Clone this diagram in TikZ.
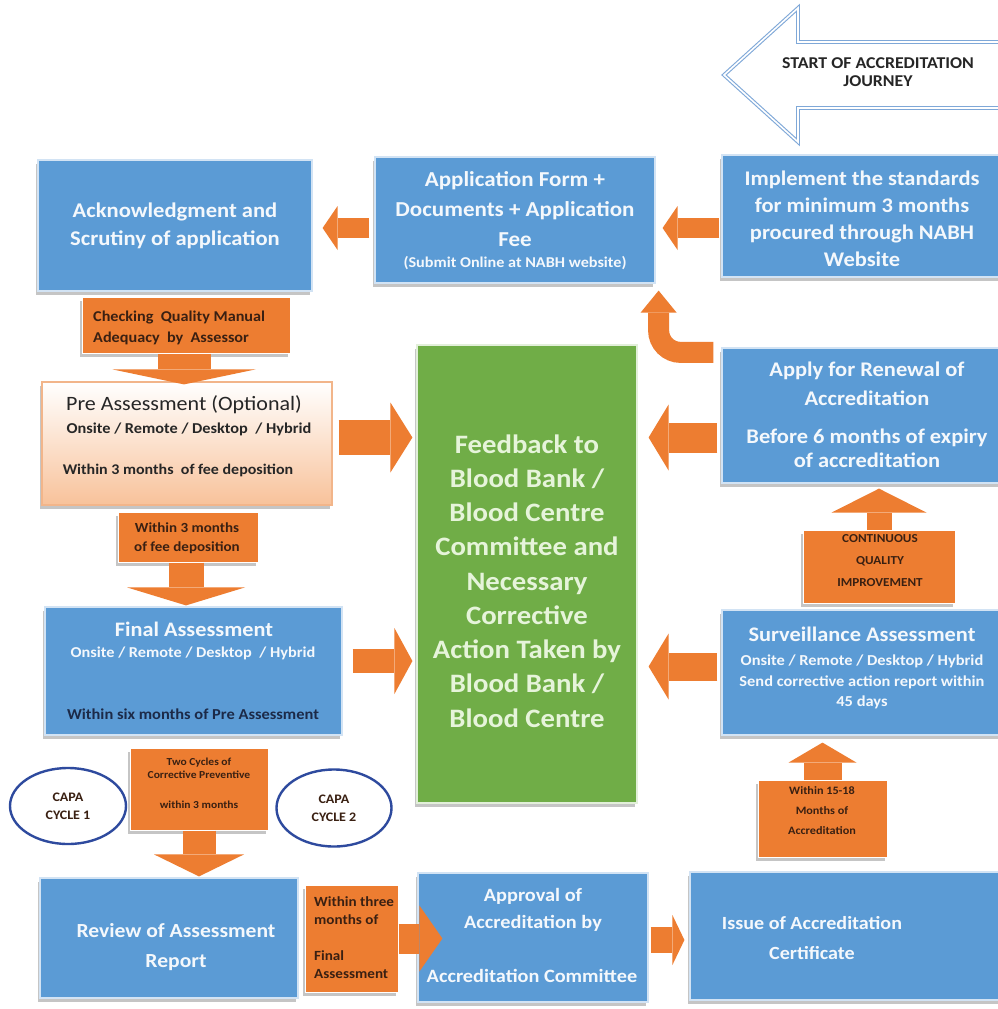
\documentclass[tikz,border=0pt]{standalone}
\usepackage{fontspec}
\setmainfont{Carlito}[FakeStretch=1.08]
\usetikzlibrary{arrows.meta,shadows,calc,shapes.geometric}
\definecolor{boxblue}{HTML}{5B9BD5}
\definecolor{boxedge}{HTML}{D2E3F4}
\definecolor{arrorange}{HTML}{ED7D31}
\definecolor{feedgreen}{HTML}{70AD47}
\definecolor{txtwhite}{HTML}{F4F8FC}
\definecolor{greentxt}{HTML}{E6F4DA}
\definecolor{darktxt}{HTML}{3A2012}
\definecolor{navytxt}{HTML}{1C2A48}
\definecolor{peach}{HTML}{F8C29A}
\definecolor{peachedge}{HTML}{F2B58A}
\definecolor{capablue}{HTML}{2E4A9E}
\definecolor{startblue}{HTML}{7FA8D8}
\begin{document}
\begin{tikzpicture}[x=1pt,y=-1pt,
  shadowed/.style={drop shadow={shadow xshift=-2.5pt,shadow yshift=-3.5pt,fill=black!45,opacity=0.5}},
  box/.style={draw=boxedge,line width=1.2pt,fill=boxblue,inner sep=0pt,shadowed},
  callout/.style={draw=white,line width=1pt,fill=arrorange,inner sep=0pt,shadowed},
  wt/.style={text=txtwhite,align=center,inner sep=0pt},
  dt/.style={text=darktxt,inner sep=0pt},
  capa/.style={ellipse,draw=capablue,line width=2.4pt,fill=white,inner sep=0pt,text=darktxt,align=center,font=\bfseries\fontsize{13}{18}\selectfont},
  barrow/.style args={#1/#2/#3}{draw=arrorange,line width=#1pt,-{Triangle[width=#2pt 0 0,length=#3pt 0 0,line width=0pt 0 0]}}
]
\fill[white] (0,0) rectangle (998,1009);
\useasboundingbox (0,0) rectangle (998,1009);

% start arrow
\draw[startblue,line width=1.1pt,double=white,double distance=1.6pt,line join=miter]
  (724,75) -- (798,8) -- (798,42) -- (1010,42) -- (1010,108) -- (798,108) -- (798,142) -- cycle;
\node[inner sep=0pt,align=center,font=\bfseries\fontsize{16.5}{17.5}\selectfont,text=black!85] (startt) at (878,72)
  {START OF ACCREDITATION\\JOURNEY};

% top row
\node[box,minimum width=274pt,minimum height=131pt] (ack) at (175,225.5) {};
\node[wt,font=\bfseries\fontsize{20.9}{28}\selectfont] (ackt) at (175,226) {Acknowledgment and\\Scrutiny of application};

\node[box,minimum width=280pt,minimum height=126pt] (app) at (515,220) {};
\node[wt,font=\bfseries\fontsize{21.3}{30}\selectfont] (appt) at (515,209) {Application Form +\\Documents + Application\\Fee};
\node[wt,font=\bfseries\fontsize{15}{16}\selectfont] (apps) at (515,263) {(Submit Online at NABH website)};

\node[box,minimum width=282pt,minimum height=122pt] (imp) at (863,216) {};
\node[wt,font=\bfseries\fontsize{20.8}{27}\selectfont] (impt) at (862,219) {Implement the standards\\for minimum 3 months\\procured through NABH\\Website};

% right column
\node[box,minimum width=282pt,minimum height=135pt] (ren) at (863,415.5) {};
\node[wt,font=\bfseries\fontsize{20.8}{29}\selectfont] (rent1) at (867,384) {Apply for Renewal of\\Accreditation};
\node[wt,font=\bfseries\fontsize{20.8}{24}\selectfont] (rent2) at (867,448) {Before 6 months of expiry\\of accreditation};

\node[box,minimum width=282pt,minimum height=125pt] (surv) at (863,672.5) {};
\node[wt,font=\bfseries\fontsize{20.7}{22}\selectfont] (survt) at (862,634) {Surveillance Assessment};
\node[wt,font=\bfseries\fontsize{15.2}{16}\selectfont] (survs) at (862,661) {Onsite / Remote / Desktop / Hybrid};
\node[wt,font=\bfseries\fontsize{15.2}{20}\selectfont] (survr) at (862,692) {Send corrective action report within\\45 days};

% centre
\node[draw=white!80!feedgreen,line width=1.2pt,fill=feedgreen,minimum width=220pt,minimum height=458pt,shadowed] (feed) at (527,574) {};
\node[inner sep=0pt,align=center,text=greentxt,font=\bfseries\fontsize{26.6}{34.25}\selectfont] (feedt) at (527,581)
  {Feedback to\\Blood Bank /\\Blood Centre\\Committee and\\Necessary\\Corrective\\Action Taken by\\Blood Bank /\\Blood Centre};

% left column
\node[callout,minimum width=208pt,minimum height=56pt] (chk) at (186,325) {};
\node[dt,anchor=west,align=left,font=\bfseries\fontsize{15}{21}\selectfont] (chkt) at (93,328) {Checking~ Quality Manual\\Adequacy~ by~ Assessor};

\node[draw=peachedge,line width=1.2pt,top color=white,bottom color=peach,minimum width=290pt,minimum height=123pt,inner sep=0pt,shadowed] (pre) at (187,443.5) {};
\node[inner sep=0pt,text=black!85,font=\fontsize{20.4}{22}\selectfont] (pret) at (184,405) {Pre Assessment (Optional)};
\node[inner sep=0pt,text=black!85,font=\bfseries\fontsize{15.1}{16}\selectfont] (pres) at (189,429) {Onsite / Remote / Desktop~~/ Hybrid};
\node[inner sep=0pt,text=black!85,font=\bfseries\fontsize{14.8}{16}\selectfont] (prew) at (178,470) {Within 3 months~~of fee deposition};

\node[callout,minimum width=140pt,minimum height=50pt] (w3) at (188,537) {};
\node[dt,align=center,font=\bfseries\fontsize{13.9}{19}\selectfont] (w3t) at (187,538) {Within 3 months\\of fee deposition};

\node[box,minimum width=297pt,minimum height=128pt] (fin) at (193.5,671) {};
\node[wt,font=\bfseries\fontsize{20.6}{22}\selectfont] (fint) at (194,629) {Final Assessment};
\node[wt,font=\bfseries\fontsize{15.1}{16}\selectfont] (fins) at (193,653) {Onsite / Remote / Desktop~~/ Hybrid};
\node[inner sep=0pt,text=navytxt,font=\bfseries\fontsize{15.2}{16}\selectfont] (finw) at (193,714) {Within six months of Pre Assessment};

\node[callout,minimum width=138pt,minimum height=82pt] (tc) at (199,789) {};
\node[dt,align=center,font=\bfseries\fontsize{10.7}{13}\selectfont] (tct) at (199,768) {Two Cycles of\\Corrective Preventive};
\node[dt,font=\bfseries\fontsize{10.7}{13}\selectfont] (tcw) at (199,805) {within 3 months};

\node[capa,minimum width=116pt,minimum height=76pt] (capa1) at (68,806) {CAPA\\CYCLE 1};
\node[capa,minimum width=115pt,minimum height=77pt] (capa2) at (334,808) {CAPA\\CYCLE 2};

% bottom row
\node[box,minimum width=258pt,minimum height=120pt] (rev) at (169,938) {};
\node[wt,font=\bfseries\fontsize{20}{30}\selectfont] (revt) at (176,947) {Review of Assessment\\Report};

\node[callout,minimum width=93pt,minimum height=107pt] (wthree) at (351.5,938.5) {};
\node[dt,anchor=west,align=left,font=\bfseries\fontsize{14}{18}\selectfont] (wthreet1) at (314,911) {Within three\\months of};
\node[dt,anchor=west,align=left,font=\bfseries\fontsize{14}{18}\selectfont] (wthreet2) at (314,965) {Final\\Assessment};

\node[box,minimum width=230pt,minimum height=129pt] (appr) at (533,937.5) {};
\node[wt,font=\bfseries\fontsize{18.8}{27}\selectfont] (apprt) at (533,910) {Approval of\\Accreditation by};
\node[wt,font=\bfseries\fontsize{18.8}{22}\selectfont] (apprc) at (532,976) {Accreditation Committee};

\node[box,minimum width=312pt,minimum height=128pt] (issue) at (846,936) {};
\node[wt,font=\bfseries\fontsize{18.6}{30}\selectfont] (issuet) at (812,938) {Issue of Accreditation\\Certificate};

\node[callout,minimum width=152pt,minimum height=73pt] (cqi) at (879,566.5) {};
\node[dt,align=center,font=\bfseries\fontsize{12.2}{22}\selectfont] (cqit) at (880,561) {CONTINUOUS\\QUALITY\\IMPROVEMENT};

\node[callout,minimum width=129pt,minimum height=77pt] (w15) at (822.5,818.5) {};
\node[dt,align=center,font=\bfseries\fontsize{11.3}{20}\selectfont] (w15t) at (822,811) {Within 15-18\\Months of\\Accreditation};

% connectors
\draw[barrow=20/44/15] ($(app.west)+(-5,8)$) -- ($(ack.east |- app.west)+(10,8)$);
\draw[barrow=20/44/15] ($(imp.west)+(-2,12)$) -- ($(app.east |- imp.west)+(7,12)$);
\draw[barrow=21/36/22,rounded corners=22pt] ($(ren.north west)+(-8,5)$) -| ($(app.south east)+(3,7)$);
\draw[barrow=35/70/22] ($(pre.east)+(6,-6)$) -- ($(feed.west |- pre.east)+(-4,-6)$);
\draw[barrow=24/66/18] ($(fin.east)+(10,-10)$) -- ($(feed.west |- fin.east)+(-4,-10)$);
\draw[barrow=30/66/20] ($(ren.west)+(-4,22)$) -- ($(feed.east |- ren.west)+(11,22)$);
\draw[barrow=28/66/20] ($(surv.west)+(-4,-6)$) -- ($(feed.east |- surv.west)+(11,-6)$);
\draw[barrow=26/50/12] ($(appr.east)+(2,2.5)$) -- ($(issue.west |- appr.east)+(-5,2.5)$);
\draw[barrow=30/66/23] (wthree.east) -- ($(appr.west |- wthree.east)+(25,0)$);
\draw[barrow=53/143/15] ($(chk.south)+(-2,0)$) -- ($(chk.south |- pre.north)+(-2,3)$);
\draw[barrow=35/118/18] ($(w3.south)+(-2,0)$) -- ($(w3.south |- fin.north)+(-2,-1)$);
\draw[barrow=33/90/22] (tc.south) -- ($(tc.south |- rev.north)+(0,-1)$);
\draw[barrow=25/95/24] (cqi.north) -- ($(cqi.north |- ren.south)+(0,5)$);
\draw[barrow=38/68/20] (w15.north) -- ($(w15.north |- surv.south)+(0,7)$);
\end{tikzpicture}
\end{document}
